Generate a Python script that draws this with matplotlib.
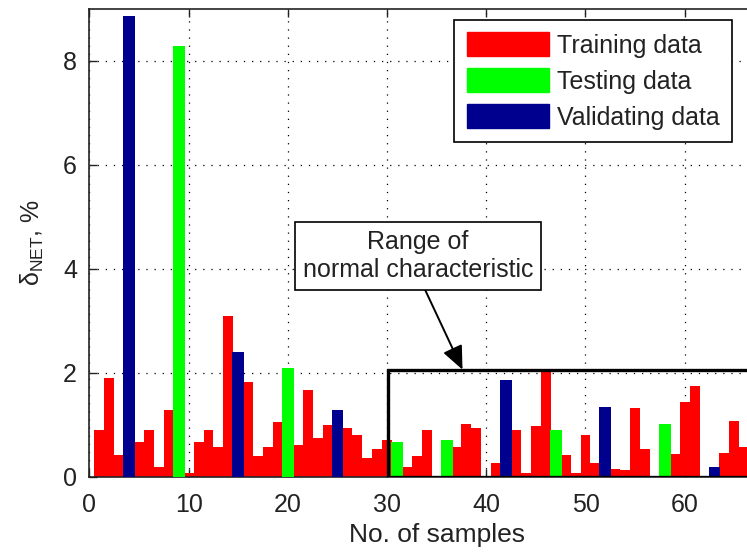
import matplotlib
matplotlib.use("Agg")
import matplotlib.pyplot as plt
from matplotlib.patches import Rectangle, Patch

plt.rcParams['font.family'] = ['Liberation Sans', 'DejaVu Sans']
plt.rcParams['mathtext.fontset'] = 'custom'
plt.rcParams['mathtext.rm'] = 'Liberation Sans'
plt.rcParams['mathtext.it'] = 'Liberation Sans:italic'

# sample numbers and errors
train_x = [1, 2, 3, 5, 6, 7, 8, 10, 11, 12, 13, 14, 16, 17, 18, 19, 21, 22, 23, 24,
           26, 27, 28, 29, 30, 32, 33, 34, 37, 38, 39, 41, 43, 44, 45, 46, 48, 49,
           50, 51, 53, 54, 55, 56, 59, 60, 61, 64, 65, 66]
train_y = [0.89, 1.89, 0.42, 0.66, 0.89, 0.19, 1.28, 0.07, 0.66, 0.89, 0.58, 3.09,
           1.82, 0.39, 0.58, 1.05, 0.61, 1.66, 0.74, 1.00, 0.93, 0.81, 0.35, 0.54,
           0.70, 0.19, 0.39, 0.89, 0.58, 1.01, 0.93, 0.27, 0.89, 0.08, 0.97, 2.02,
           0.42, 0.08, 0.81, 0.27, 0.15, 0.12, 1.32, 0.54, 0.43, 1.44, 1.74, 0.46,
           1.08, 0.58]
test_x = [9, 20, 31, 36, 47, 58]
test_y = [8.28, 2.10, 0.66, 0.70, 0.89, 1.01]
valid_x = [4, 15, 25, 42, 52, 63]
valid_y = [8.87, 2.39, 1.28, 1.86, 1.35, 0.19]

red = '#ff0000'
green = '#00ff00'
navy = '#00008f'

fig = plt.figure(figsize=(7.47, 5.53), dpi=100)
# axes runs past the right edge of the figure, like the cropped original
ax = fig.add_axes([0.1198, 0.138, 0.9296, 0.8458])

ax.bar(train_x, train_y, width=1.0, color=red, edgecolor='none', zorder=2)
ax.bar(test_x, test_y, width=1.2, color=green, edgecolor='none', zorder=3)
ax.bar(valid_x, valid_y, width=1.2, color=navy, edgecolor='none', zorder=3)

ax.set_xlim(0, 70)
ax.set_ylim(0, 9)
ax.set_xticks(range(0, 61, 10))
ax.set_yticks(range(0, 9, 2))
ax.tick_params(direction='in', length=6, width=1, labelsize=18, colors='#222222',
               top=True, pad=9)
ax.tick_params(axis='x', pad=12)
for s in ax.spines.values():
    s.set_linewidth(1.2)
    s.set_color('#222222')
ax.grid(True, color='k', linestyle=(0, (1, 5.5)), linewidth=0.9, zorder=1)
ax.set_axisbelow(True)

ax.set_xlabel('No. of samples', fontsize=19, color='#222222', labelpad=4)
ax.set_ylabel('δ$_{\\mathrm{NET}}$, %', fontsize=18, color='#222222', labelpad=12)

# box around the normal range
ax.add_patch(Rectangle((30.1, 0), 45, 2.05, fill=False, edgecolor='k',
                       linewidth=2.4, zorder=4))

ax.annotate('Range of\nnormal characteristic', xy=(37.6, 2.06), xytext=(33.1, 4.25),
            ha='center', va='center', multialignment='center', fontsize=18,
            color='#222222',
            bbox=dict(boxstyle='square,pad=0.32', fc='white', ec='k', lw=1.2),
            arrowprops=dict(arrowstyle='-|>,head_length=0.8,head_width=0.35',
                            color='k', lw=1.4, relpos=(0.515, 0), shrinkA=0, shrinkB=0),
            zorder=5)

handles = [Patch(color=red, label='Training data'),
           Patch(color=green, label='Testing data'),
           Patch(color=navy, label='Validating data')]
leg = ax.legend(handles=handles, loc='upper left', bbox_to_anchor=(0.608, 0.964),
                bbox_transform=fig.transFigure, fontsize=18, fancybox=False,
                framealpha=1, edgecolor='k', handlelength=3.3, handleheight=1.1,
                labelspacing=0.42, handletextpad=0.3, borderpad=0.5,
                borderaxespad=0)
leg.get_frame().set_linewidth(1.2)
for t in leg.get_texts():
    t.set_color('#222222')

fig.savefig('out.png', dpi=100)
